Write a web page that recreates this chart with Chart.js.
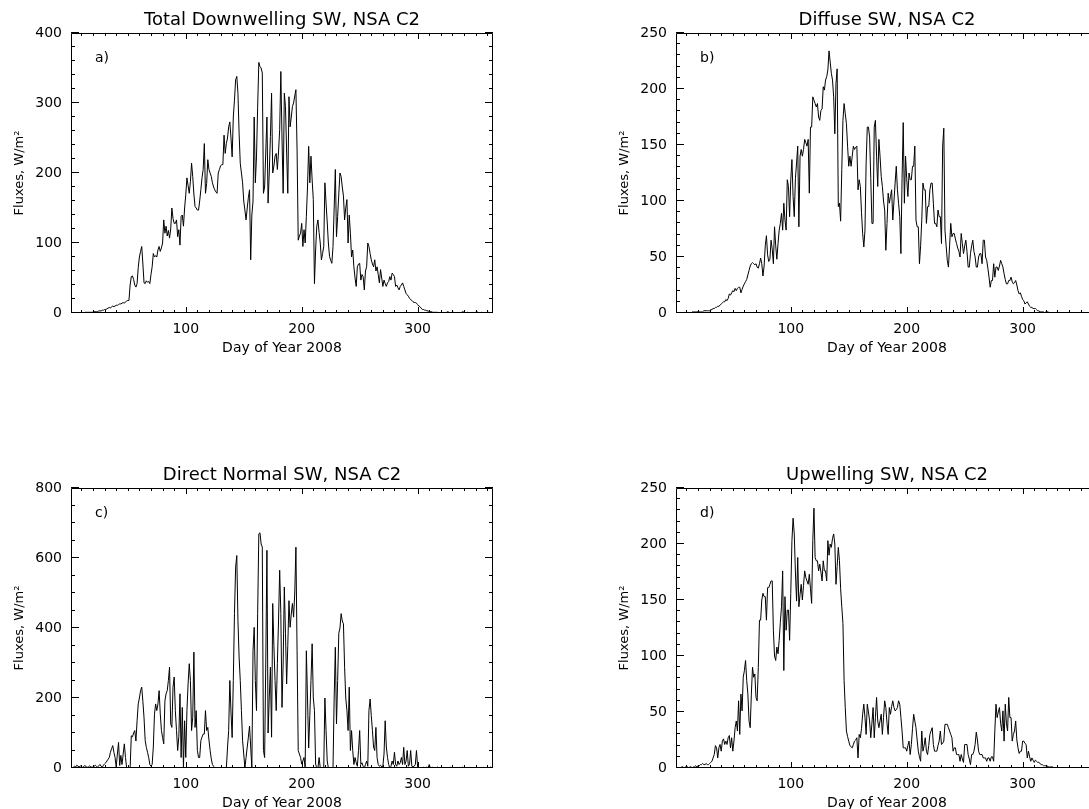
<!DOCTYPE html>
<html>
<head>
<meta charset="utf-8">
<script src="https://cdn.jsdelivr.net/npm/chart.js@4.4.0/dist/chart.umd.min.js"></script>
<style>
  html, body { margin: 0; padding: 0; background: #fff; overflow: hidden; width: 1089px; height: 809px; }
  canvas { position: absolute; }
</style>
</head>
<body>
<canvas id="total_down" width="605" height="360" style="left:0;top:0"></canvas>
<canvas id="diffuse" width="605" height="360" style="left:605px;top:0"></canvas>
<canvas id="direct_normal" width="605" height="360" style="left:0;top:455px"></canvas>
<canvas id="upwelling" width="605" height="360" style="left:605px;top:455px"></canvas>
<script>
// x tick labels (day of year)
const xTickDays = [100, 200, 300];

// daily means, W/m2, day 1 .. 365
const totalDown = [
  0,0,0,0,0,0,0,0,0,0,
  0,0,1,1,1,1,1,1,1,1,
  2,2,2,2,3,3,3,4,4,5,
  5,6,7,8,7,9,10,9,10,11,
  11,12,13,13,14,15,14,16,17,18,
  18,40,52,53,48,40,37,42,65,80,
  88,95,70,43,42,46,44,45,42,55,
  66,85,80,82,80,90,95,88,93,100,
  133,114,124,110,118,107,120,150,135,128,
  128,133,109,119,97,138,140,124,150,169,
  193,182,171,188,214,195,170,152,150,147,
  147,160,176,193,205,242,171,185,219,205,
  200,195,186,180,176,173,171,200,205,210,
  212,212,254,228,242,250,266,273,250,223,
  280,304,333,338,314,257,214,200,186,160,
  147,133,150,165,176,76,140,160,280,186,
  223,294,358,352,350,343,171,180,230,280,
  157,200,252,314,200,210,224,228,205,230,
  262,345,250,171,314,295,230,171,309,266,
  280,295,300,310,319,233,104,110,114,128,
  95,119,100,138,180,238,186,224,190,162,
  42,90,124,133,115,100,76,85,95,186,
  157,130,100,81,75,71,95,150,205,109,
  138,170,200,195,180,167,133,150,162,100,
  140,114,80,90,66,50,38,66,70,71,
  47,55,52,33,60,66,100,95,85,76,
  70,66,76,60,66,55,43,62,50,38,
  47,42,38,43,45,52,47,57,55,52,
  38,40,36,33,38,40,43,38,33,28,
  26,24,21,19,18,16,15,15,14,12,
  10,9,7,5,5,4,4,3,3,2,
  2,2,1,1,1,1,1,0,0,0,
  0,1,0,0,1,2,1,0,0,0,
  1,0,0,1,0,0,0,1,2,1,
  0,0,1,0,0,0,1,0,0,1,
  2,1,0,0,1,0,0,1,0,0,
  1,0,0,0,0
];

const diffuse = [
  0,0,0,0,0,0,0,0,0,0,
  0,0,0,0,1,1,1,1,1,1,
  1,1,1,1,2,2,2,2,2,2,
  3,3,4,4,5,5,6,6,7,8,
  9,10,10,12,11,13,17,16,18,20,
  19,22,20,22,23,23,18,21,24,26,
  28,30,34,38,42,44,45,44,43,44,
  41,40,44,49,44,33,42,60,69,52,
  46,48,65,57,44,77,60,48,62,74,
  80,89,74,98,83,74,119,113,86,119,
  137,104,86,120,134,149,77,140,146,140,
  146,155,152,149,155,107,166,166,193,190,
  187,184,187,175,172,181,182,202,199,208,
  211,217,234,224,214,208,193,160,205,218,
  95,98,82,128,172,187,178,169,149,131,
  140,131,140,149,146,148,149,110,119,113,
  90,71,59,74,134,166,166,157,120,80,
  80,166,172,140,113,155,140,122,113,100,
  92,56,80,107,98,104,110,83,100,116,
  131,110,98,86,53,120,170,98,140,120,
  104,125,119,119,131,131,149,83,77,77,
  44,60,83,116,110,110,80,95,95,110,
  116,116,98,80,80,77,92,86,86,62,
  149,165,74,60,47,41,60,80,68,71,
  71,66,62,58,55,50,71,62,53,60,
  65,55,41,41,53,60,65,55,50,41,
  41,50,53,53,44,65,65,50,47,40,
  32,23,29,29,44,32,41,41,38,42,
  47,44,41,35,30,26,26,29,29,32,
  28,26,27,29,25,20,17,18,15,12,
  11,8,9,10,8,6,5,5,4,4,
  4,3,2,2,1,1,1,1,0,1,
  1,1,0,0,0,0,0,0,0,0,
  0,0,0,0,0,0,0,0,0,0,
  0,0,0,0,0,0,0,0,0,0,
  0,0,0,0,0,0,0,0,0,0,
  0,0,0,0,0
];

const directNormal = [
  0,0,2,5,3,8,5,3,6,4,
  2,5,7,4,2,3,6,4,2,3,
  5,8,4,3,6,10,5,2,8,12,
  15,20,25,30,45,55,64,45,30,3,
  40,73,7,36,10,40,69,30,0,0,
  0,0,92,89,100,107,77,135,183,200,
  221,231,190,143,78,59,45,30,10,5,
  10,60,154,183,164,183,221,155,107,87,
  69,192,212,221,250,288,126,116,231,260,
  164,107,50,89,212,30,173,0,135,30,
  164,240,298,250,107,145,331,116,164,50,
  30,30,78,88,97,97,164,107,116,80,
  50,26,10,5,0,0,0,0,0,0,
  0,0,0,0,0,57,107,250,160,87,
  250,441,574,607,422,317,250,164,78,40,
  0,30,60,88,120,60,0,335,402,250,
  164,441,669,672,640,631,50,30,300,622,
  100,200,288,88,470,350,250,164,298,420,
  565,441,173,300,517,385,240,350,478,402,
  440,470,431,500,631,335,50,40,30,11,
  20,30,0,335,200,57,150,250,355,200,
  164,11,0,0,30,0,0,0,0,200,
  107,20,0,0,0,0,0,200,345,126,
  250,385,400,441,420,412,288,200,164,107,
  231,50,107,50,10,30,15,5,50,107,
  10,15,5,0,10,20,5,164,197,150,
  107,60,50,116,30,10,5,8,3,5,
  40,135,60,30,10,0,5,20,10,45,
  10,5,20,10,15,30,10,59,10,20,
  50,5,10,50,5,3,5,10,50,3,
  2,0,0,0,2,0,0,3,0,10,
  0,0,2,0,0,0,3,0,0,0,
  0,2,0,0,0,0,0,3,0,0,
  0,0,0,2,0,0,0,0,3,0,
  0,0,0,0,2,0,0,0,0,0,
  3,0,0,0,0,0,2,0,0,0,
  0,0,3,0,0
];

const upwelling = [
  0,0,0,0,0,1,1,0,1,0,
  1,0,1,1,0,1,1,2,1,2,
  2,3,3,4,3,3,4,3,3,4,
  5,6,9,12,20,18,9,18,21,15,
  24,26,21,24,21,27,29,18,27,15,
  24,36,42,33,60,30,66,51,81,87,
  96,78,66,42,36,66,90,81,84,63,
  60,90,132,132,150,156,153,153,132,161,
  161,164,167,167,123,100,96,108,102,114,
  130,144,176,87,153,123,141,141,114,156,
  203,223,209,175,149,188,144,155,164,150,
  163,176,170,167,164,173,160,147,203,232,
  188,185,185,176,182,175,167,185,176,176,
  167,203,190,200,197,205,209,200,164,180,
  197,185,160,144,129,78,54,33,28,24,
  20,19,18,21,24,25,27,9,30,27,
  35,48,57,45,30,57,50,42,27,40,
  54,27,45,63,42,36,42,48,30,45,
  60,54,40,30,54,48,55,60,54,51,
  52,54,60,57,45,33,18,18,18,15,
  20,24,12,21,35,48,42,36,25,15,
  10,6,33,15,20,27,15,12,20,30,
  33,36,21,15,15,15,20,24,33,21,
  22,24,39,39,39,36,33,30,27,15,
  18,18,12,12,12,6,12,8,5,21,
  21,21,12,8,3,12,12,15,21,32,
  25,15,12,12,12,9,9,9,6,9,
  9,6,10,10,6,33,57,45,50,54,
  40,33,51,24,57,40,33,63,45,45,
  24,30,33,42,25,18,13,15,15,24,
  24,22,21,9,15,10,6,9,7,5,
  7,6,5,5,4,3,3,2,2,2,
  2,1,1,1,1,1,0,0,0,0,
  0,0,0,0,0,0,0,0,0,0,
  0,0,0,0,0,0,0,0,0,0,
  0,0,0,0,0,0,0,0,0,0,
  0,0,0,0,0
];

const dayOfYear = [];
for (let d = 1; d <= 365; d++) dayOfYear.push(d);

Chart.defaults.font.family = 'DejaVu Sans';
Chart.defaults.color = '#000';

// IDL style box: frame on all four sides, inward major/minor ticks, panel letter
const boxPlugin = {
  id: 'box',
  afterDraw(chart, args, opts) {
    const { ctx, chartArea: a } = chart;
    const xs = chart.scales.x;
    const ys = chart.scales.y;
    ctx.save();
    ctx.strokeStyle = '#000';
    ctx.lineWidth = 1;
    ctx.beginPath();
    ctx.rect(a.left + 0.5, a.top + 0.5, a.right - a.left - 1, a.bottom - a.top - 1);
    for (let d = 10; d <= 360; d += 10) {
      const len = d % 100 === 0 ? 6 : 3;
      const px = Math.round(xs.getPixelForValue(d)) + 0.5;
      ctx.moveTo(px, a.bottom);
      ctx.lineTo(px, a.bottom - len);
      ctx.moveTo(px, a.top);
      ctx.lineTo(px, a.top + len);
    }
    for (let v = 0; v <= opts.yMax; v += opts.yMinor) {
      const len = v % opts.yStep === 0 ? 8 : 4;
      const py = Math.round(ys.getPixelForValue(v)) - 0.5;
      ctx.moveTo(a.left, py);
      ctx.lineTo(a.left + len, py);
      ctx.moveTo(a.right, py);
      ctx.lineTo(a.right - len, py);
    }
    ctx.stroke();
    ctx.fillStyle = '#000';
    ctx.font = '14px "DejaVu Sans"';
    ctx.textBaseline = 'middle';
    ctx.fillText(opts.label, a.left + 24, a.top + 25);
    ctx.restore();
  }
};

const makePanel = (id, title, label, values, yMax, yStep, yMinor) => {
  const ctx = document.getElementById(id).getContext('2d');
  return new Chart(ctx, {
    type: 'line',
    data: {
      datasets: [
        {
          data: values.map((v, i) => ({ x: dayOfYear[i], y: v })),
          borderColor: '#000',
          borderWidth: 1,
          pointRadius: 0,
          tension: 0,
          fill: false,
        },
      ],
    },
    options: {
      responsive: false,
      animation: false,
      layout: { padding: { left: 0, top: 0, right: 112, bottom: 3.6 } },
      plugins: {
        legend: { display: false },
        tooltip: { enabled: false },
        title: {
          display: true,
          text: title,
          fullSize: false,
          color: '#000',
          font: { size: 18, weight: 'normal' },
          padding: { top: 9.5, bottom: 1.9 },
        },
        box: { label: label, yMax: yMax, yStep: yStep, yMinor: yMinor },
      },
      scales: {
        x: {
          type: 'linear',
          min: 1,
          max: 365,
          grid: { display: false, drawTicks: false },
          border: { display: false },
          ticks: { autoSkip: false, maxRotation: 0, padding: 8, font: { size: 14 } },
          afterBuildTicks: s => {
            s.ticks = xTickDays.map(v => ({ value: v }));
          },
          afterFit: s => {
            s.height = 43.4;
          },
          title: { display: true, text: 'Day of Year 2008', font: { size: 14 }, padding: 0 },
        },
        y: {
          min: 0,
          max: yMax,
          grid: { display: false, drawTicks: false },
          border: { display: false },
          ticks: { stepSize: yStep, padding: 9, font: { size: 14 } },
          afterFit: s => {
            s.width = 71;
          },
          title: { display: true, text: 'Fluxes, W/m²', font: { size: 13 }, padding: { top: 12, bottom: 0 } },
        },
      },
    },
    plugins: [boxPlugin],
  });
};

makePanel('total_down', 'Total Downwelling SW, NSA C2', 'a)', totalDown, 400, 100, 20);
makePanel('diffuse', 'Diffuse SW, NSA C2', 'b)', diffuse, 250, 50, 10);
makePanel('direct_normal', 'Direct Normal SW, NSA C2', 'c)', directNormal, 800, 200, 50);
makePanel('upwelling', 'Upwelling SW, NSA C2', 'd)', upwelling, 250, 50, 10);
</script>
</body>
</html>
